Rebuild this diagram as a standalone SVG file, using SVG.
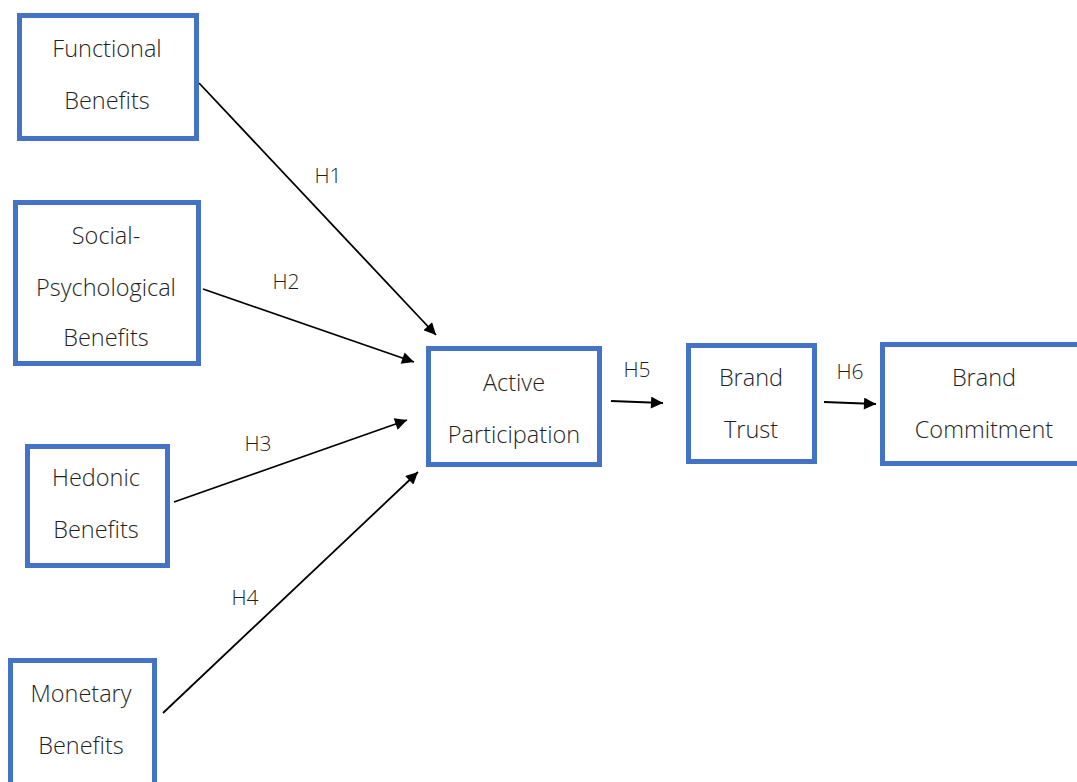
<svg xmlns="http://www.w3.org/2000/svg" width="1077" height="782" viewBox="0 0 1077 782">
  <defs>
    <marker id="arrow" viewBox="0 0 10 10" refX="10" refY="5" markerWidth="15" markerHeight="12" markerUnits="userSpaceOnUse" orient="auto">
      <path d="M0,0 L10,5 L0,10 z" fill="#000"/>
    </marker>
    <style>
      .box { fill: #fff; stroke: #4472c4; stroke-width: 5; }
      .lbl { font-family: "Open Sans", "Noto Sans", sans-serif; font-size: 23.5px; fill: #1f1f1f; text-anchor: middle; font-weight: 300; }
      .hyp { font-family: "Open Sans", "Noto Sans", sans-serif; font-size: 21px; fill: #1f1f1f; text-anchor: middle; font-weight: 300; }
      .edge { stroke: #000; stroke-width: 1.8; fill: none; marker-end: url(#arrow); }
    </style>
  </defs>
  <rect width="1077" height="782" fill="#fff"/>

  <g id="connectors">
    <line class="edge" x1="199" y1="83" x2="436" y2="335"/>
    <line class="edge" x1="203" y1="289" x2="414" y2="362"/>
    <line class="edge" x1="174" y1="502" x2="407" y2="420"/>
    <line class="edge" x1="163" y1="713" x2="418" y2="472"/>
    <line class="edge" x1="611" y1="401" x2="663" y2="403"/>
    <line class="edge" x1="824" y1="402" x2="876" y2="404"/>
    <text class="hyp" x="328" y="183">H1</text>
    <text class="hyp" x="286" y="289">H2</text>
    <text class="hyp" x="258" y="451">H3</text>
    <text class="hyp" x="245" y="605">H4</text>
    <text class="hyp" x="637" y="377">H5</text>
    <text class="hyp" x="850" y="379">H6</text>
  </g>

  <g id="functional">
    <rect class="box" x="19.5" y="15.5" width="177" height="123"/>
    <text class="lbl" x="107" y="57">Functional</text>
    <text class="lbl" x="107" y="109">Benefits</text>
  </g>

  <g id="social">
    <rect class="box" x="15.5" y="202.5" width="183" height="161"/>
    <text class="lbl" x="106" y="244">Social-</text>
    <text class="lbl" x="106" y="296">Psychological</text>
    <text class="lbl" x="106" y="346">Benefits</text>
  </g>

  <g id="hedonic">
    <rect class="box" x="27.5" y="446.5" width="140" height="119"/>
    <text class="lbl" x="96" y="486">Hedonic</text>
    <text class="lbl" x="96" y="538">Benefits</text>
  </g>

  <g id="monetary">
    <rect class="box" x="10.5" y="660.5" width="144" height="130"/>
    <text class="lbl" x="81" y="702">Monetary</text>
    <text class="lbl" x="81" y="754">Benefits</text>
  </g>

  <g id="active">
    <rect class="box" x="428.5" y="348.5" width="171" height="116"/>
    <text class="lbl" x="514" y="391">Active</text>
    <text class="lbl" x="514" y="443">Participation</text>
  </g>

  <g id="trust">
    <rect class="box" x="688.5" y="345.5" width="126" height="116"/>
    <text class="lbl" x="751" y="386">Brand</text>
    <text class="lbl" x="751" y="438">Trust</text>
  </g>

  <g id="commitment">
    <rect class="box" x="882.5" y="344.5" width="200" height="119"/>
    <text class="lbl" x="984" y="386">Brand</text>
    <text class="lbl" x="984" y="438">Commitment</text>
  </g>
</svg>
